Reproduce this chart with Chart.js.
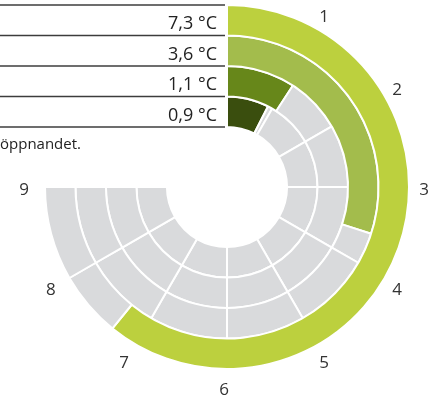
<!DOCTYPE html>
<html><head><meta charset="utf-8">
<script src="https://cdn.jsdelivr.net/npm/chart.js@4"></script>
<style>html,body{margin:0;padding:0;background:#fff;overflow:hidden}</style>
</head><body>
<canvas id="c" width="441" height="403" style="display:block;width:441px;height:403px"></canvas>
<script>
const scaleMax = 9;
const tickLabels = ['1','2','3','4','5','6','7','8','9'];
const ringValues = [7.3, 3.6, 1.1, 0.9];
const ringColors = ['#bcd03e', '#a3bc4c', '#67871a', '#3a4e0e'];
const valueLabels = ['7,3 °C', '3,6 °C', '1,1 °C', '0,9 °C'];
const noteText = 'öppnandet.';
const GREY = '#d9dadc';

function ringData(v) {
  const d = [v];
  const c = Math.ceil(v);
  if (c - v > 1e-9) d.push(+(c - v).toFixed(3));
  for (let k = c; k < scaleMax; k++) d.push(1);
  return d;
}
function ringColorsFor(v, col) {
  return ringData(v).map((_, i) => i === 0 ? col : GREY);
}

const overlay = {
  id: 'overlay',
  afterDraw(chart) {
    const ctx = chart.ctx;
    const metas = ringValues.map((_, i) => chart.getDatasetMeta(i).data[0]);
    const cx = metas[0].x, cy = metas[0].y, R = metas[0].outerRadius;
    const ys = metas.map(a => cy - a.outerRadius);
    ys.push(cy - metas[metas.length - 1].innerRadius);
    ctx.save();
    ctx.strokeStyle = '#3c3c3c';
    ctx.lineWidth = 1.5;
    ys.forEach(y => { ctx.beginPath(); ctx.moveTo(0, y); ctx.lineTo(cx - 2, y); ctx.stroke(); });
    ctx.fillStyle = '#222';
    ctx.font = '18px "Open Sans"';
    ctx.textAlign = 'right';
    ctx.textBaseline = 'alphabetic';
    valueLabels.forEach((t, i) => ctx.fillText(t, cx - 10, ys[i + 1] - 6));
    ctx.textAlign = 'left';
    ctx.font = '15px "Open Sans"';
    ctx.fillText(noteText, 0, 149);
    ctx.font = '17px "Open Sans"';
    ctx.fillStyle = '#333';
    ctx.textAlign = 'center';
    ctx.textBaseline = 'middle';
    const lr = R + 18;
    tickLabels.forEach((t, k) => {
      const a = (k + 1) / scaleMax * 1.5 * Math.PI;
      ctx.fillText(t, cx - 3 + lr * Math.sin(a), cy + 3 - lr * Math.cos(a));
    });
    ctx.restore();
  }
};

new Chart(document.getElementById('c'), {
  type: 'doughnut',
  data: {
    datasets: ringValues.map((v, i) => ({
      data: ringData(v),
      backgroundColor: ringColorsFor(v, ringColors[i]),
      borderColor: '#ffffff',
      borderWidth: 2,
      hoverOffset: 0
    }))
  },
  options: {
    responsive: false,
    animation: false,
    rotation: 0,
    circumference: 270,
    cutout: '33%',
    layout: { padding: { left: 44, top: 4, right: 31, bottom: 33 } },
    plugins: { legend: { display: false }, tooltip: { enabled: false } },
    events: []
  },
  plugins: [overlay]
});
</script>
</body></html>
